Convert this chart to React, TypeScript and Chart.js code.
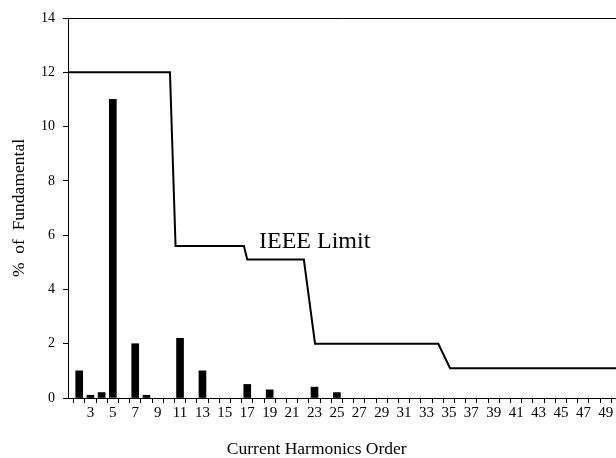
import React, { useEffect, useRef } from "react";
import { Chart, registerables } from "chart.js";

Chart.register(...registerables);

// Harmonic current spectrum (measured), % of fundamental
const harmonicOrders = [2, 3, 4, 5, 7, 8, 11, 13, 17, 19, 23, 25];
const harmonicValues = [1.0, 0.1, 0.2, 11.0, 2.0, 0.1, 2.2, 1.0, 0.5, 0.3, 0.4, 0.2];

// IEEE limit step line
const limitOrders = [1, 10.1, 10.6, 16.7, 17, 22.05, 23.05, 34.05, 35.1, 50];
const limitValues = [12, 12, 5.6, 5.6, 5.1, 5.1, 2, 2, 1.1, 1.1];

const xMin = 1;
const xMax = 50;
const yTicks = [0, 2, 4, 6, 8, 10, 12, 14];

const limitLabel = "IEEE Limit";
const limitLabelAt = { x: 18.05, y: 5.75 };

const xTitle = "Current Harmonics Order";
const xTitleAt = 23.2; // centre of the title, in harmonic-order units
const yTitle = "%  of  Fundamental";

const FONT = '"Liberation Serif", "Times New Roman", serif';

export default function App() {
  const ref = useRef<HTMLCanvasElement | null>(null);

  useEffect(() => {
    document.body.style.margin = "0";
    const canvas = ref.current;
    if (!canvas) return;

    const frameAndLabel = {
      id: "frameAndLabel",
      afterDatasetsDraw(chart: any) {
        const { ctx, chartArea, scales } = chart;
        ctx.save();
        ctx.strokeStyle = "#000";
        ctx.lineWidth = 1;
        ctx.beginPath();
        ctx.moveTo(chartArea.left, chartArea.top + 0.5);
        ctx.lineTo(chartArea.right, chartArea.top + 0.5);
        ctx.stroke();
        ctx.fillStyle = "#000";
        ctx.font = `24px ${FONT}`;
        ctx.textAlign = "left";
        ctx.textBaseline = "middle";
        ctx.fillText(
          limitLabel,
          scales.x.getPixelForValue(limitLabelAt.x),
          scales.y.getPixelForValue(limitLabelAt.y)
        );
        ctx.font = `17.5px ${FONT}`;
        ctx.textAlign = "center";
        ctx.fillText(xTitle, scales.x.getPixelForValue(xTitleAt), scales.x.bottom - 9);
        ctx.restore();
      },
    };

    const chart = new Chart(canvas, {
      type: "bar",
      data: {
        datasets: [
          {
            type: "line",
            label: "IEEE Limit",
            data: limitOrders.map((x, i) => ({ x, y: limitValues[i] })),
            borderColor: "#000",
            borderWidth: 2,
            pointRadius: 0,
            tension: 0,
            fill: false,
            order: 0,
          } as any,
          {
            type: "bar",
            label: "Harmonics",
            data: harmonicOrders.map((x, i) => ({ x, y: harmonicValues[i] })),
            backgroundColor: "#000",
            borderWidth: 0,
            barThickness: 7,
            order: 1,
          } as any,
        ],
      },
      options: {
        animation: false,
        responsive: false,
        devicePixelRatio: 1,
        layout: { padding: { top: 18, right: 23, left: 0, bottom: 0 } },
        plugins: {
          legend: { display: false },
          tooltip: { enabled: false },
        },
        scales: {
          x: {
            type: "linear",
            min: xMin,
            max: xMax,
            offset: false,
            grid: {
              drawOnChartArea: false,
              drawTicks: true,
              tickLength: 5,
              color: "#000",
            },
            border: { display: true, color: "#000", width: 1 },
            ticks: {
              stepSize: 1,
              autoSkip: false,
              maxRotation: 0,
              padding: 1,
              color: "#000",
              font: { family: FONT, size: 15 },
              callback: (v: any) => {
                const n = Number(v);
                return n >= 3 && n % 2 === 1 ? String(n) : "";
              },
            },
            title: { display: false },
            afterFit: (s: any) => {
              s.height = 60;
            },
          },
          y: {
            type: "linear",
            min: yTicks[0],
            max: yTicks[yTicks.length - 1],
            grid: {
              drawOnChartArea: false,
              drawTicks: true,
              tickLength: 5,
              color: "#000",
            },
            border: { display: true, color: "#000", width: 1 },
            afterBuildTicks: (s: any) => {
              s.ticks = yTicks.map((value) => ({ value }));
            },
            ticks: {
              padding: 8,
              color: "#000",
              font: { family: FONT, size: 14 },
            },
            title: {
              display: true,
              text: yTitle,
              color: "#000",
              font: { family: FONT, size: 17.5 },
              padding: { top: 9, bottom: 4 },
            },
            afterFit: (s: any) => {
              s.width = 68;
            },
          },
        },
      },
      plugins: [frameAndLabel],
    });

    return () => chart.destroy();
  }, []);

  return (
    <div
      style={{
        position: "fixed",
        left: 0,
        top: 0,
        width: 616,
        height: 458,
        overflow: "hidden",
        background: "#fff",
      }}
    >
      <canvas ref={ref} width={640} height={458} style={{ display: "block" }} />
    </div>
  );
}
